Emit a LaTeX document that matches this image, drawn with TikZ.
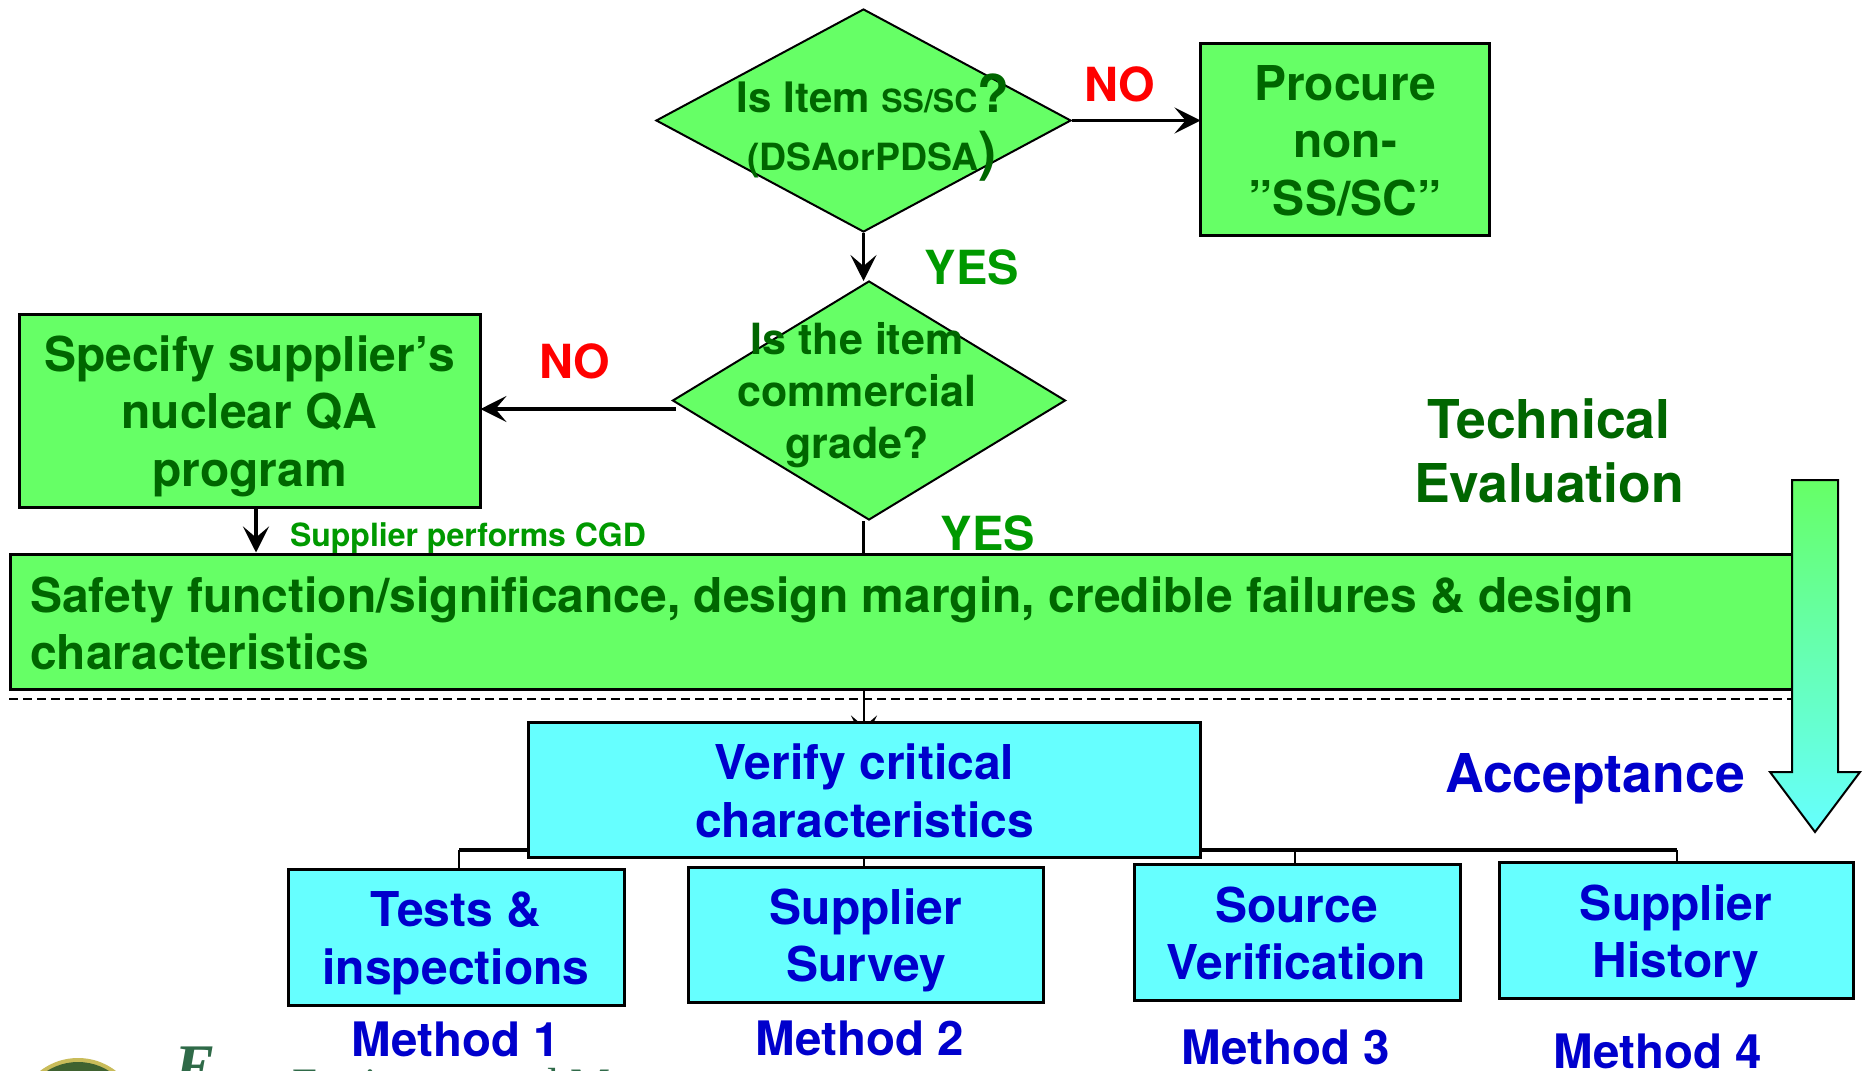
\documentclass[tikz,border=0pt]{standalone}
\usepackage{fontspec}
\setmainfont{TeX Gyre Heros}
\newfontfamily\logofont{Liberation Serif}
\usetikzlibrary{shapes.geometric,arrows.meta,backgrounds}
\definecolor{boxgreen}{HTML}{66FF66}
\definecolor{boxcyan}{HTML}{66FFFF}
\definecolor{txtgreen}{HTML}{006600}
\definecolor{txtblue}{HTML}{0000CC}
\definecolor{yesgreen}{HTML}{009900}
\definecolor{logogreen}{HTML}{2F6A48}
\definecolor{sealrim}{HTML}{C9BC5A}
\definecolor{sealband}{HTML}{3F6230}
\tikzset{
  gbox/.style={draw=black,line width=3pt,fill=boxgreen,inner sep=0pt},
  cbox/.style={draw=black,line width=3pt,fill=boxcyan,inner sep=0pt},
  gdia/.style={diamond,draw=black,line width=2pt,fill=boxgreen,inner sep=0pt},
  lab/.style={inner sep=0pt,align=center,text=#1,font=\fontsize{48}{57.5}\selectfont\bfseries},
  gtxt/.style={inner sep=0pt,align=center,text=txtgreen,font=\fontsize{43}{52}\selectfont\bfseries},
  decision/.style={inner sep=0pt,text=#1,font=\fontsize{47}{56}\selectfont\bfseries},
  bigtxt/.style={inner sep=0pt,align=center,text=#1,font=\fontsize{53.5}{64}\selectfont\bfseries},
  method/.style={inner sep=0pt,text=txtblue,font=\fontsize{47.5}{56}\selectfont\bfseries},
  conn/.style={draw=black,line width=3.2pt,-{Stealth[length=26pt,width=26pt,inset=11pt]}},
  thin conn/.style={draw=black,line width=2.4pt},
}
\begin{document}
\begin{tikzpicture}[x=1pt,y=-1pt]
\useasboundingbox (0,0) rectangle (1864,1071);
\clip (0,0) rectangle (1864,1071);

% logo fragment
\fill[sealrim] (78,1120) circle (62);
\fill[sealband] (78,1120) circle (58);
\node[inner sep=0pt,anchor=base,text=logogreen,font=\fontsize{62}{62}\selectfont\logofont\bfseries\itshape] (logoE) at (195,1087) {E};
\node[inner sep=0pt,anchor=base west,text=logogreen,font=\fontsize{45}{45}\selectfont\logofont] (logoT) at (292,1099) {Environmental M};

% nodes
\node[gdia,minimum width=415pt,minimum height=223pt] (d1) at (863.5,120.5) {};
\node[gbox,minimum width=289pt,minimum height=192pt] (procure) at (1344.5,139) {};
\node[gdia,minimum width=393pt,minimum height=239pt] (d2) at (869,400.5) {};
\node[gbox,minimum width=461pt,minimum height=193pt] (spec) at (249.5,410.5) {};
\node[gbox,minimum width=1782pt,minimum height=135pt] (safety) at (901,621.5) {};
\node[cbox,minimum width=672pt,minimum height=135pt] (verify) at (864,789.5) {};
\node[cbox,minimum width=336pt,minimum height=136pt] (tests) at (456,937) {};
\node[cbox,minimum width=355pt,minimum height=135pt] (survey) at (866,934.5) {};
\node[cbox,minimum width=326pt,minimum height=136pt] (source) at (1297,932) {};
\node[cbox,minimum width=354pt,minimum height=136pt] (history) at (1676,930) {};

% box texts
\node[lab=txtgreen] (procuret) at (1345,140.5) {Procure\\non-\\”SS/SC”};
\node[lab=txtgreen] (spect) at (249.5,416) {Specify supplier’s\\nuclear QA\\program};
\node[lab=txtgreen,align=left,anchor=west] (safetyt) at (30,623.5) {Safety function/significance, design margin, credible failures \& design\\characteristics};
\node[lab=txtblue] (verifyt) at (864.5,791) {Verify critical\\characteristics};
\node[lab=txtblue] (testst) at (456,943) {Tests \&\\inspections};
\node[lab=txtblue] (surveyt) at (866,940.5) {Supplier\\Survey};
\node[lab=txtblue] (sourcet) at (1296.5,933.5) {Source\\Verification};
\node[lab=txtblue] (historyt) at (1676,936.5) {Supplier\\History};

% diamond texts
\node[gtxt,anchor=base] (d1a) at (873,112) {\fontsize{42}{52}\selectfont Is Item {\fontsize{32}{40}\selectfont SS/SC}{\fontsize{52}{52}\selectfont ?}};
\node[gtxt,anchor=base] (d1b) at (872,170) {\fontsize{37.5}{44}\selectfont (DSAorPDSA{\fontsize{54}{54}\selectfont )}};
\node[gtxt] (d2t) at (857,395) {Is the item\\commercial\\grade?};

% labels
\node[decision=red] (no1) at (1120,84) {NO};
\node[decision=yesgreen] (yes1) at (972,267) {YES};
\node[decision=red] (no2) at (575,361) {NO};
\node[decision=yesgreen] (yes2) at (988,533) {YES};
\node[inner sep=0pt,text=yesgreen,font=\fontsize{32}{38}\selectfont\bfseries] (cgd) at (468,538) {Supplier performs CGD};
\node[bigtxt=txtgreen] (tech) at (1549,451) {Technical\\Evaluation};
\node[bigtxt=txtblue] (accept) at (1595,779) {Acceptance};
\node[method] (m1) at (456,1039) {Method 1};
\node[method] (m2) at (860,1038) {Method 2};
\node[method] (m3) at (1286,1047) {Method 3};
\node[method] (m4) at (1658,1051) {Method 4};

% free ends of connectors
\coordinate (lineL) at (459,850);
\coordinate (lineR) at (1677,850);
\coordinate (specOut) at (256,507);
\coordinate (d2Out) at (676,409);

\begin{pgfonlayer}{background}
  % dashed divider
  \draw[line width=1.6pt,dash pattern=on 9pt off 5pt] (9,699) -- (1792,699);
  \draw[thin conn] (d2.south -| d1.south) -- (safety.north -| d1.south);
  \draw[conn,line width=2.4pt,shorten >=-21pt] (safety.south -| verify.north) -- (verify.north);
  % tree under Verify
  \draw[draw=black,line width=3.6pt] (lineL) -- (lineR);
  \draw[thin conn] (lineL) -- (lineL |- tests.north);
  \draw[thin conn] (verify.south) -- (verify.south |- survey.north);
  \draw[thin conn] (source.north -| 1295,0) -- (1295,850);
  \draw[thin conn] (lineR) -- (lineR |- history.north);
\end{pgfonlayer}

\draw[conn,shorten >=-2pt] (d1.east) -- (procure.west |- d1.east);
\draw[conn,shorten >=-1pt] (d1.south) -- (d1.south |- d2.north);
\draw[conn,shorten >=-1pt] (d2Out) -- (spec.east |- d2Out);
\draw[conn,line width=4.5pt] (specOut) -- (specOut |- safety.north);

% big gradient arrow
\path[draw=black,line width=2pt,top color=boxgreen,bottom color=boxcyan,line join=miter]
  (1792,480) -- (1838,480) -- (1838,772) -- (1860,772) -- (1815,832) -- (1770,772) -- (1792,772) -- cycle;
\end{tikzpicture}
\end{document}
